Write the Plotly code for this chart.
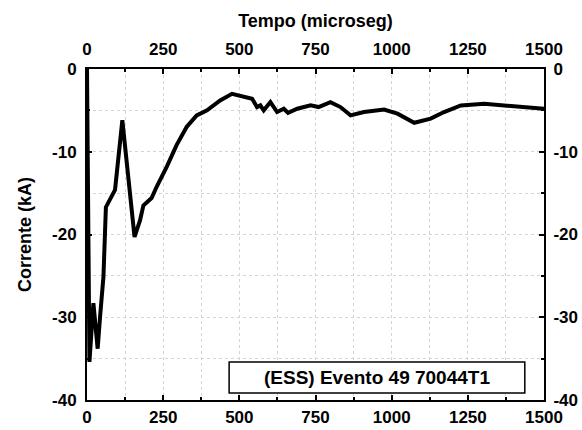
import plotly.graph_objects as go

# Time (microseconds) and current (kA)
tempo = [0, 4, 8, 21, 35, 43, 54, 62, 81, 92, 116, 136, 156, 174, 185, 212, 229,
         262, 294, 327, 360, 394, 437, 476, 514, 542, 558, 569, 580, 602, 624, 646,
         660, 690, 734, 760, 799, 832, 865, 909, 975, 1019, 1074, 1128, 1172, 1227,
         1304, 1414, 1500]
corrente = [0, -20, -35.4, -28.3, -33.8, -29.9, -25.1, -16.7, -15.4, -14.6, -6.2,
            -13.0, -20.3, -18.3, -16.5, -15.6, -14.2, -11.8, -9.2, -7.0, -5.6, -5.0,
            -3.8, -3.0, -3.4, -3.6, -4.6, -4.4, -5.0, -4.0, -5.2, -4.8, -5.3, -4.8,
            -4.4, -4.6, -4.0, -4.6, -5.6, -5.2, -4.9, -5.4, -6.5, -6.0, -5.2, -4.4,
            -4.2, -4.5, -4.8]

x_ticks = [0, 250, 500, 750, 1000, 1250, 1500]
y_ticks = [0, -10, -20, -30, -40]
label = "(ESS) Evento 49 70044T1"

FAM = "Liberation Sans, Arial, sans-serif"
TICKFONT = dict(family=FAM, size=17, color="black", weight="bold")
TITLEFONT = dict(family=FAM, size=18, color="black", weight="bold")

fig = go.Figure()
fig.add_trace(go.Scatter(x=tempo, y=corrente, mode="lines",
                         line=dict(color="black", width=4), showlegend=False))
fig.add_trace(go.Scatter(x=tempo, y=corrente, mode="lines", xaxis="x2", yaxis="y2",
                         line=dict(color="rgba(0,0,0,0)", width=1), showlegend=False,
                         hoverinfo="skip"))

common_x = dict(range=[0, 1500], tickvals=x_ticks, ticktext=[str(v) for v in x_ticks],
                showline=True, linecolor="black", linewidth=2, ticks="inside",
                ticklen=5, tickwidth=1.5, tickcolor="black", zeroline=False,
                tickfont=TICKFONT, automargin=False)
common_y = dict(range=[-40, 0], tickvals=y_ticks, ticktext=[str(v) for v in y_ticks],
                showline=True, linecolor="black", linewidth=2, ticks="inside",
                ticklen=5, tickwidth=1.5, tickcolor="black", zeroline=False,
                tickfont=TICKFONT, automargin=False)

GRID = "#d4d4d4"
fig.update_layout(
    width=582, height=430,
    margin=dict(l=87, r=38, t=69, b=30),
    paper_bgcolor="white", plot_bgcolor="white",
    font=TICKFONT,
    xaxis=dict(**common_x, side="bottom", showgrid=True, gridcolor=GRID,
               griddash="dot", gridwidth=1, ticklabelstandoff=1,
               minor=dict(dtick=125, tick0=0, ticks="inside", ticklen=3,
                          tickcolor="black", showgrid=True, gridcolor=GRID,
                          griddash="dot")),
    yaxis=dict(**common_y, side="left", showgrid=True, gridcolor=GRID,
               griddash="dot", gridwidth=1, ticklabelstandoff=5,
               title=dict(text="Corrente (kA)", font=TITLEFONT, standoff=16),
               minor=dict(dtick=5, tick0=0, ticks="inside", ticklen=3,
                          tickcolor="black", showgrid=True, gridcolor=GRID,
                          griddash="dot")),
    xaxis2=dict(**common_x, side="top", overlaying="x", showgrid=False,
                ticklabelstandoff=5,
                title=dict(text="Tempo (microseg)", font=TITLEFONT, standoff=8),
                minor=dict(dtick=125, tick0=0, ticks="inside", ticklen=3,
                           tickcolor="black")),
    yaxis2=dict(**common_y, side="right", overlaying="y", showgrid=False,
                ticklabelstandoff=4,
                minor=dict(dtick=5, tick0=0, ticks="inside", ticklen=3,
                           tickcolor="black")),
    shapes=[dict(type="rect", xref="paper", yref="paper", x0=0.311, x1=0.958,
                 y0=0.021, y1=0.115, line=dict(color="black", width=1.5),
                 fillcolor="white", layer="above")],
    annotations=[dict(text=label, xref="paper", yref="paper", x=0.6345, y=0.068,
                      showarrow=False, font=dict(family=FAM, size=19, weight="bold"),
                      xanchor="center", yanchor="middle")],
)

fig.write_html("out.html")
